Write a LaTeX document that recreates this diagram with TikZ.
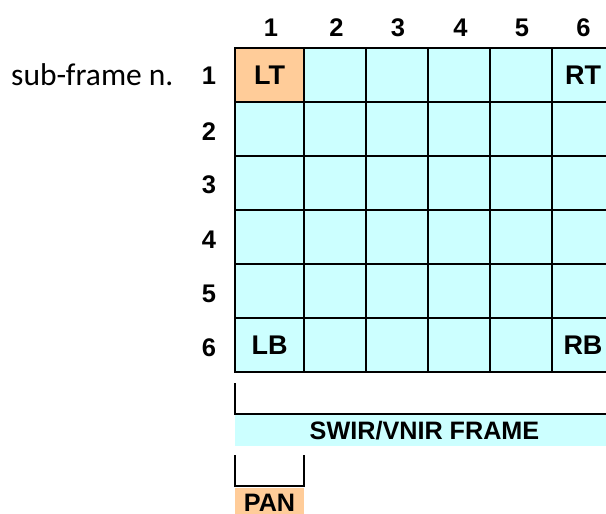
\documentclass[tikz,border=0pt]{standalone}
\usepackage{fontspec}
\setmainfont{Liberation Sans}
\newfontfamily\calibfont{Carlito}
\definecolor{cyanfill}{HTML}{CCFFFF}
\definecolor{orangefill}{HTML}{FFCC99}
\begin{document}
\begin{tikzpicture}[x=1pt,y=-1pt,
  cellbox/.style={draw=black, line width=2.4pt, fill=cyanfill, inner sep=0pt, outer sep=0pt, minimum height=54pt, font=\fontsize{27}{27}\selectfont\bfseries, text height=19pt, text depth=0pt},
  celltext/.style={inner sep=0pt, font=\fontsize{27}{27}\selectfont\bfseries, text height=19pt, text depth=0pt},
  headlbl/.style={inner sep=0pt, font=\fontsize{25.5}{25}\selectfont\bfseries, text height=18pt, text depth=0pt},
  bandbox/.style={inner sep=0pt, outer sep=0pt, font=\fontsize{25.2}{25}\selectfont\bfseries, text height=18pt, text depth=0pt},
  bracketline/.style={draw=black, line width=2pt}]
\useasboundingbox (0,0) rectangle (606,514);
% grid cells
\foreach \r/\ya/\yb in {1/48/102,2/102/156,3/156/210,4/210/264,5/264/318,6/318/372}{
  \foreach \c/\xa/\xb in {1/235/304,2/304/366,3/366/428,4/428/490,5/490/552,6/552/614}{
    \pgfmathsetmacro\cw{\xb-\xa}
    \node[cellbox, minimum width=\cw pt] (c\r\c) at ({(\xa+\xb)/2},{(\ya+\yb)/2}) {};
  }
}
\node[cellbox, fill=orangefill, minimum width=69pt] (c11) at (269.5,75) {LT};
\node[celltext] (rt) at (583,75) {RT};
\node[celltext] (lb) at (c61) {LB};
\node[celltext] (rb) at (583,345) {RB};
% column headers
\foreach \c/\x in {1/271,2/336.5,3/398,4/460.5,5/522,6/583.5}{
  \node[headlbl] (h\c) at (\x,28) {\c};
}
% row headers
\foreach \r/\y in {1/75.5,2/131,3/184,4/239,5/293,6/347}{
  \node[headlbl] (v\r) at (209,\y) {\r};
}
\node[inner sep=0pt, anchor=west, font=\calibfont\fontsize{31.5}{32}\selectfont] (sub) at (11,75) {sub-frame n.};
% frame bracket
\coordinate (fa) at (235,383);
\coordinate (fb) at (235,414);
\coordinate (fc) at (614,414);
\coordinate (fd) at (614,383);
\draw[bracketline] (fa) -- (fb) -- (fc) -- (fd);
\node[bandbox, fill=cyanfill, minimum width=379pt, minimum height=31pt] (frame) at (424.5,430.5) {SWIR/VNIR FRAME};
% pan bracket
\coordinate (pa) at (235,455);
\coordinate (pb) at (235,486);
\coordinate (pc) at (304,486);
\coordinate (pd) at (304,455);
\draw[bracketline] (pa) -- (pb) -- (pc) -- (pd);
\fill[orangefill] (235,488) rectangle (304,518);
\node[bandbox] (pan) at (269.5,502) {PAN};
\end{tikzpicture}
\end{document}
